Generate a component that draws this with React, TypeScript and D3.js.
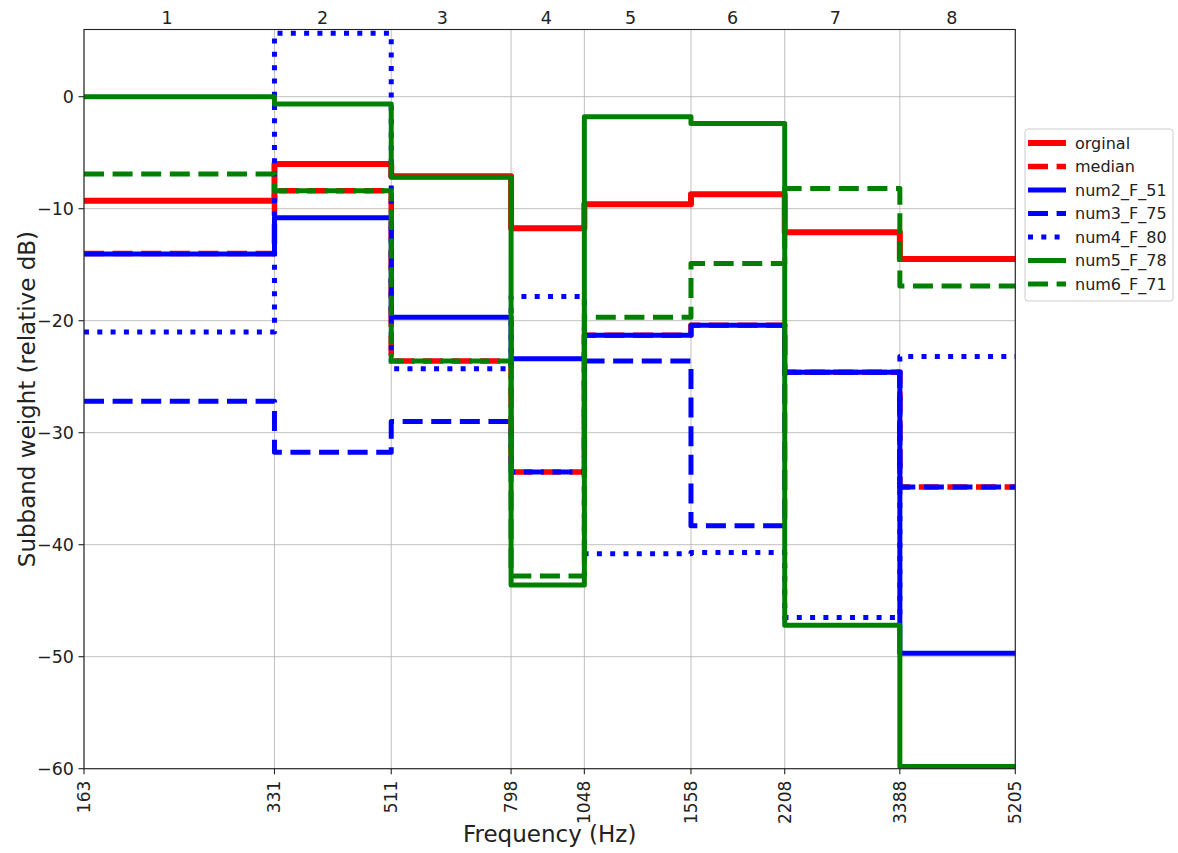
import React, { useRef, useEffect } from 'react';
import * as d3 from 'd3';

// band edges (Hz) used as x ticks, band numbers shown on top
const bandEdges = [163, 331, 511, 798, 1048, 1558, 2208, 3388, 5205];
const bandLabels = ['1', '2', '3', '4', '5', '6', '7', '8'];
const bandLabelFreqs = [222, 396, 618, 910, 1244, 1818, 2664, 4110];
const yTicks = [0, -10, -20, -30, -40, -50, -60];

// subband weights (relative dB), one value per band
const orginal = [-9.3, -6.0, -7.1, -11.75, -9.6, -8.7, -12.1, -14.5];
const median = [-14.0, -8.4, -23.6, -33.5, -21.3, -20.4, -24.6, -34.85];
const num2F51 = [-14.05, -10.8, -19.7, -23.4, -21.3, -20.4, -24.6, -49.7];
const num3F75 = [-27.2, -31.75, -29.0, -33.5, -23.6, -38.3, -24.6, -34.85];
const num4F80 = [-21.0, 5.66, -24.3, -17.85, -40.8, -40.7, -46.5, -23.2];
const num5F78 = [0, -0.65, -7.2, -43.6, -1.8, -2.4, -47.2, -59.8];
const num6F71 = [-6.9, -8.4, -23.6, -42.8, -19.7, -14.9, -8.2, -16.9];

interface Series {
    name: string;
    values: number[];
    color: string;
    width: number;
    dash: string | null;
}

const series: Series[] = [
    { name: 'orginal', values: orginal, color: '#ff0000', width: 6, dash: null },
    { name: 'median', values: median, color: '#ff0000', width: 5.5, dash: '20,8.6' },
    { name: 'num2_F_51', values: num2F51, color: '#0000ff', width: 5, dash: null },
    { name: 'num3_F_75', values: num3F75, color: '#0000ff', width: 5, dash: '20,8.6' },
    { name: 'num4_F_80', values: num4F80, color: '#0000ff', width: 5, dash: '5,8.3' },
    { name: 'num5_F_78', values: num5F78, color: '#008000', width: 5, dash: null },
    { name: 'num6_F_71', values: num6F71, color: '#008000', width: 5, dash: '20,8.6' },
];

const FONT = '"DejaVu Sans", sans-serif';

function App(): React.ReactElement {
    const ref = useRef<SVGSVGElement | null>(null);

    useEffect(() => {
        if (!ref.current) return;
        const width = 1178;
        const height = 853;
        const m = { left: 84, right: 1015.3, top: 29.5, bottom: 768.7 };

        const svg = d3.select(ref.current);
        svg.selectAll('*').remove();

        const x = d3.scaleLog().domain([163, 5205]).range([m.left, m.right]);
        const y = d3.scaleLinear().domain([-60, 6]).range([m.bottom, m.top]);

        svg.append('rect').attr('width', width).attr('height', height).attr('fill', '#fff');

        svg.append('defs').append('clipPath').attr('id', 'plotClip')
            .append('rect')
            .attr('x', m.left).attr('y', m.top)
            .attr('width', m.right - m.left).attr('height', m.bottom - m.top);

        // grid
        const grid = svg.append('g').attr('stroke', '#b0b0b0').attr('stroke-width', 0.8);
        bandEdges.forEach(f => {
            grid.append('line').attr('x1', x(f)).attr('x2', x(f)).attr('y1', m.top).attr('y2', m.bottom);
        });
        yTicks.forEach(v => {
            grid.append('line').attr('x1', m.left).attr('x2', m.right).attr('y1', y(v)).attr('y2', y(v));
        });

        // step lines
        const line = d3.line<[number, number]>()
            .x(d => x(d[0]))
            .y(d => y(d[1]))
            .curve(d3.curveStepAfter);

        const plot = svg.append('g').attr('clip-path', 'url(#plotClip)');
        series.forEach(s => {
            const pts: [number, number][] = bandEdges.map((f, i) => [f, s.values[Math.min(i, s.values.length - 1)]]);
            plot.append('path')
                .attr('d', line(pts) ?? '')
                .attr('fill', 'none')
                .attr('stroke', s.color)
                .attr('stroke-width', s.width)
                .attr('stroke-linejoin', 'round')
                .attr('stroke-linecap', s.dash ? 'butt' : 'square')
                .attr('stroke-dasharray', s.dash ?? null);
        });

        // frame
        svg.append('rect')
            .attr('x', m.left).attr('y', m.top)
            .attr('width', m.right - m.left).attr('height', m.bottom - m.top)
            .attr('fill', 'none').attr('stroke', '#222').attr('stroke-width', 1.1);

        // x ticks
        const xt = svg.append('g');
        bandEdges.forEach(f => {
            xt.append('line').attr('x1', x(f)).attr('x2', x(f))
                .attr('y1', m.bottom).attr('y2', m.bottom + 5.5)
                .attr('stroke', '#222').attr('stroke-width', 1.1);
            xt.append('text')
                .attr('transform', `translate(${x(f)},${m.bottom + 12}) rotate(-90)`)
                .attr('text-anchor', 'end')
                .attr('dominant-baseline', 'central')
                .attr('font-family', FONT).attr('font-size', 17).attr('fill', '#222')
                .text(String(f));
        });

        // y ticks
        const yt = svg.append('g');
        yTicks.forEach(v => {
            yt.append('line').attr('x1', m.left - 5.5).attr('x2', m.left)
                .attr('y1', y(v)).attr('y2', y(v))
                .attr('stroke', '#222').attr('stroke-width', 1.1);
            yt.append('text')
                .attr('x', m.left - 10).attr('y', y(v))
                .attr('text-anchor', 'end')
                .attr('dominant-baseline', 'central')
                .attr('font-family', FONT).attr('font-size', 17.5).attr('fill', '#222')
                .text(v < 0 ? `\u2212${Math.abs(v)}` : String(v));
        });

        // band numbers on top
        bandLabels.forEach((lab, i) => {
            svg.append('text')
                .attr('x', x(bandLabelFreqs[i])).attr('y', m.top - 6)
                .attr('text-anchor', 'middle')
                .attr('font-family', FONT).attr('font-size', 17.5).attr('fill', '#222')
                .text(lab);
        });

        // axis titles
        svg.append('text')
            .attr('x', (m.left + m.right) / 2).attr('y', 842)
            .attr('text-anchor', 'middle')
            .attr('font-family', FONT).attr('font-size', 23).attr('fill', '#222')
            .text('Frequency (Hz)');
        svg.append('text')
            .attr('transform', `translate(35,${(m.top + m.bottom) / 2}) rotate(-90)`)
            .attr('text-anchor', 'middle')
            .attr('font-family', FONT).attr('font-size', 23).attr('fill', '#222')
            .text('Subband weight (relative dB)');

        // legend
        const lg = svg.append('g').attr('transform', 'translate(1025,129)');
        lg.append('rect')
            .attr('width', 148).attr('height', 172).attr('rx', 3)
            .attr('fill', '#fff').attr('fill-opacity', 0.8)
            .attr('stroke', '#cccccc').attr('stroke-width', 1);
        series.forEach((s, i) => {
            const ry = 14 + i * 23.5;
            lg.append('line')
                .attr('x1', 3).attr('x2', 41).attr('y1', ry).attr('y2', ry)
                .attr('stroke', s.color).attr('stroke-width', s.width)
                .attr('stroke-linecap', 'butt')
                .attr('stroke-dasharray', s.dash ?? null);
            lg.append('text')
                .attr('x', 50).attr('y', ry)
                .attr('dominant-baseline', 'central')
                .attr('font-family', FONT).attr('font-size', 16).attr('fill', '#222')
                .text(s.name);
        });
    }, []);

    return (
        <svg
            ref={ref}
            width={1178}
            height={853}
            style={{ position: 'absolute', left: 0, top: 0, display: 'block' }}
        />
    );
}

export default App;
